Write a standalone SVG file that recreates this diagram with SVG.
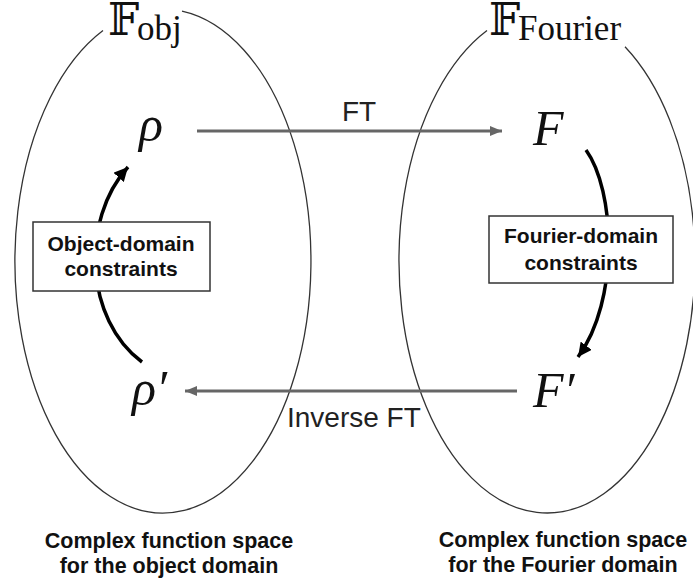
<svg xmlns="http://www.w3.org/2000/svg" width="693" height="585" viewBox="0 0 693 585">
<style>
.space{fill:none;stroke:#333;stroke-width:1.3}
.bb{font-family:"DejaVu Serif","DejaVu Sans",serif;font-size:44px;fill:#111}
.sub{font-family:"Liberation Serif",serif;font-size:35px;fill:#111}
.math{font-family:"Liberation Serif",serif;font-style:italic;font-size:50px;fill:#111}
.lbl{font-family:"Liberation Sans",Arial,sans-serif;font-size:28px;fill:#222}
.box{fill:#fff;stroke:#333;stroke-width:1.5}
.btxt{font-family:"Liberation Sans",Arial,sans-serif;font-weight:bold;font-size:21px;fill:#111;text-anchor:middle}
.cap{font-family:"Liberation Sans",Arial,sans-serif;font-weight:bold;font-size:21.5px;fill:#111;text-anchor:middle}
.ft{fill:none;stroke:#666;stroke-width:3}
.cv{fill:none;stroke:#000;stroke-width:3.5}
</style>
<defs>
<marker id="gh" markerUnits="userSpaceOnUse" markerWidth="14" markerHeight="12" refX="12" refY="6" orient="auto">
<path d="M0,1 L12,6 L0,11 Z" fill="#666"/>
</marker>
<marker id="bh" markerUnits="userSpaceOnUse" markerWidth="16" markerHeight="14" refX="14" refY="7" orient="auto">
<path d="M0,0 L14,7 L0,14 Z" fill="#000"/>
</marker>
</defs>
<g id="space-obj">
<path class="space" d="M182,11.1 A148,252 0 1 1 103,30.6"/>
<text class="bb" x="108" y="35">𝔽</text>
<text class="sub" x="137" y="40">obj</text>
<text class="cap" x="169" y="548">Complex function space</text>
<text class="cap" x="169" y="573">for the object domain</text>
</g>
<g id="space-fourier">
<path class="space" d="M625,46.8 A148,252 0 1 1 487,30.6"/>
<text class="bb" x="489" y="35">𝔽</text>
<text class="sub" x="518" y="40">Fourier</text>
<text class="cap" x="563" y="547">Complex function space</text>
<text class="cap" x="563" y="572">for the Fourier domain</text>
</g>
<g id="connectors">
<line class="ft" x1="197" y1="131" x2="502" y2="131" marker-end="url(#gh)"/>
<line class="ft" x1="517" y1="391" x2="185" y2="391" marker-end="url(#gh)"/>
<path class="cv" d="M142,362 C85,320 80,220 128,167" marker-end="url(#bh)"/>
<path class="cv" d="M586,150 C615,190 620,300 578,357" marker-end="url(#bh)"/>
<text class="lbl" x="342" y="121">FT</text>
<text class="lbl" x="287" y="427">Inverse FT</text>
</g>
<g id="rho">
<text class="math" x="139" y="141">ρ</text>
</g>
<g id="F">
<text class="math" x="533" y="145">F</text>
</g>
<g id="rho-prime">
<text class="math" x="132" y="405">ρ′</text>
</g>
<g id="F-prime">
<text class="math" x="533" y="407">F′</text>
</g>
<g id="obj-constraints">
<rect class="box" x="33" y="222" width="177" height="69"/>
<text class="btxt" x="121" y="251">Object-domain</text>
<text class="btxt" x="121" y="276">constraints</text>
</g>
<g id="fourier-constraints">
<rect class="box" x="489" y="216" width="184" height="67"/>
<text class="btxt" x="581" y="243">Fourier-domain</text>
<text class="btxt" x="581" y="270">constraints</text>
</g>
</svg>
